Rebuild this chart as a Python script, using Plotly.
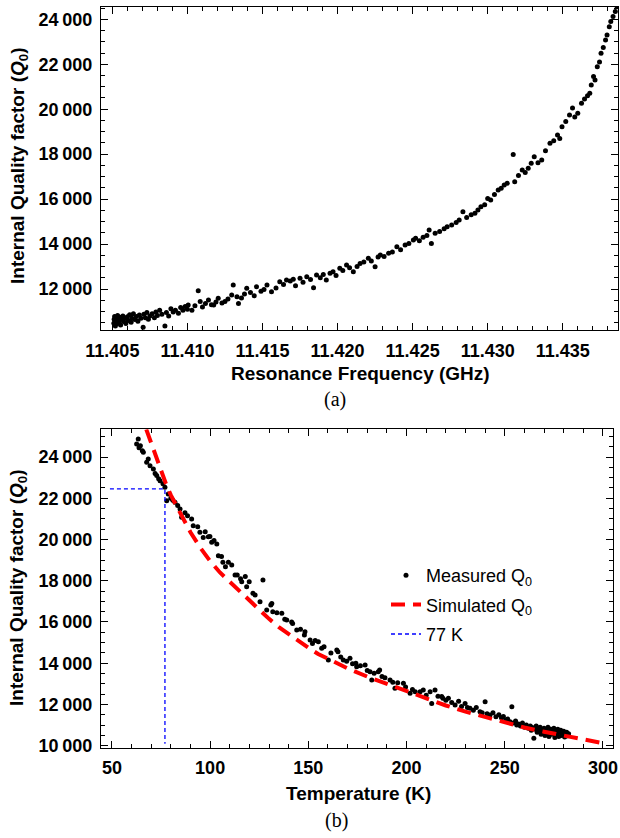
import plotly.graph_objects as go

# (a) Q0 vs resonance frequency
freq_ghz = [
    11.40510, 11.40512, 11.40515, 11.40518, 11.40520, 11.40525, 11.40530, 11.40535, 11.40540, 11.40545,
    11.40550, 11.40555, 11.40560, 11.40570, 11.40575, 11.40580, 11.40590, 11.40600, 11.40605, 11.40615,
    11.40625, 11.40630, 11.40640, 11.40650, 11.40660, 11.40670, 11.40680, 11.40690, 11.40705, 11.40710,
    11.40720, 11.40730, 11.40740, 11.40750, 11.40765, 11.40780, 11.40790, 11.40800, 11.40815, 11.40830,
    11.40850, 11.40860, 11.40875, 11.40890, 11.40905, 11.40920, 11.40940, 11.40955, 11.40970, 11.40985,
    11.41000, 11.41005, 11.41030, 11.41050, 11.41072, 11.41085, 11.41100, 11.41120, 11.41140, 11.41160,
    11.41175, 11.41190, 11.41205, 11.41230, 11.41250, 11.41270, 11.41295, 11.41305, 11.41330, 11.41340,
    11.41360, 11.41380, 11.41395, 11.41420, 11.41445, 11.41460, 11.41490, 11.41510, 11.41530, 11.41560,
    11.41590, 11.41615, 11.41640, 11.41660, 11.41685, 11.41705, 11.41720, 11.41750, 11.41770, 11.41795,
    11.41820, 11.41840, 11.41860, 11.41885, 11.41905, 11.41925, 11.41950, 11.41970, 11.41990, 11.42015,
    11.42035, 11.42060, 11.42080, 11.42105, 11.42130, 11.42150, 11.42175, 11.42205, 11.42225, 11.42250,
    11.42270, 11.42285, 11.42310, 11.42340, 11.42365, 11.42395, 11.42420, 11.42450, 11.42475, 11.42505,
    11.42520, 11.42545, 11.42570, 11.42595, 11.42610, 11.42625, 11.42650, 11.42680, 11.42710, 11.42730,
    11.42760, 11.42790, 11.42810, 11.42835, 11.42860, 11.42890, 11.42915, 11.42935, 11.42955, 11.42980,
    11.43000, 11.43020, 11.43045, 11.43070, 11.43090, 11.43110, 11.43130, 11.43170, 11.43180, 11.43205,
    11.43230, 11.43250, 11.43270, 11.43290, 11.43310, 11.43335, 11.43360, 11.43385, 11.43415, 11.43440,
    11.43465, 11.43480, 11.43495, 11.43520, 11.43545, 11.43565, 11.43580, 11.43600, 11.43625, 11.43645,
    11.43665, 11.43680, 11.43690, 11.43705, 11.43715, 11.43730, 11.43745, 11.43755, 11.43770, 11.43785,
    11.43795, 11.43810, 11.43820, 11.43835, 11.43850, 11.43862,
]
q_vs_freq = [
    10480, 10650, 10780, 10560, 10350, 10700, 10450, 10820, 10600, 10520,
    10740, 10400, 10650, 10800, 10550, 10700, 10460, 10760, 10600, 10850,
    10520, 10700, 10900, 10640, 10780, 10560, 10840, 10700, 10300, 10880,
    10720, 10960, 10650, 10800, 10900, 10720, 10980, 10820, 11060, 10880,
    10350, 10950, 10800, 11120, 10980, 11060, 10920, 11180, 11050, 11220,
    11100, 11290, 11060, 11250, 11920, 11440, 11200, 11350, 11510, 11300,
    11290, 11420, 11590, 11380, 11440, 11560, 11730, 12180, 11660, 11360,
    11600, 11780, 12030, 11850, 11700, 12100, 11900, 11980, 12180, 11880,
    12050, 12320, 12200, 12400, 12360, 12430, 12150, 12480, 12300, 12550,
    12420, 12060, 12620, 12500, 12650, 12400, 12700, 12770, 12600, 12920,
    12820, 13070, 12950, 12770, 13000, 13140, 13200, 13370, 13250, 12990,
    13420, 13510, 13450, 13590, 13650, 13880, 13750, 13960, 14020, 14180,
    14260, 14150, 14300, 14380, 14630, 14030, 14480, 14560, 14680, 14770,
    14850, 14960, 15070, 15440, 15180, 15300, 15370, 15520, 15660, 15750,
    16030, 15960, 16200, 16400, 16480, 16630, 16700, 17990, 16770, 17050,
    17290, 17180, 17370, 17600, 17890, 17620, 17740, 18150, 18480, 18600,
    18850, 18700, 19220, 19450, 19740, 20050, 19650, 19820, 20260, 20450,
    20600, 20710, 21080, 21450, 21300, 21890, 22100, 22490, 22750, 23080,
    23300, 23670, 23900, 24120, 24350, 24560,
]

# (b) Q0 vs temperature
temp_k = [
    62.6, 63.4, 63.8, 64.5, 65.5, 66.0, 67.7, 68.5, 69.4, 71.1,
    72.0, 72.8, 73.8, 74.5, 76.0, 77.0, 77.9, 78.7, 80.0, 81.0,
    82.1, 83.5, 84.7, 85.5, 87.2, 88.5, 90.6, 91.4, 93.7, 94.8,
    96.5, 97.5, 99.1, 99.9, 100.8, 102.0, 103.4, 104.2, 105.8, 106.5,
    107.8, 109.3, 111.0, 112.7, 113.8, 115.5, 116.1, 117.9, 118.6, 119.9,
    121.8, 122.9, 125.4, 126.9, 128.8, 130.9, 131.4, 131.9, 134.0, 136.5,
    138.0, 139.0, 141.5, 142.0, 144.1, 146.0, 148.0, 148.3, 150.9, 152.1,
    153.5, 155.1, 156.8, 158.0, 160.2, 161.5, 164.5, 165.1, 166.5, 167.8,
    169.5, 171.2, 172.5, 174.2, 174.6, 176.5, 178.9, 180.0, 181.4, 182.3,
    183.5, 185.6, 186.3, 187.5, 189.0, 191.6, 193.0, 194.1, 195.5, 198.4,
    199.5, 201.8, 203.0, 204.4, 206.9, 208.5, 210.0, 212.0, 212.8, 214.5,
    216.0, 217.9, 218.5, 220.0, 221.3, 223.0, 224.7, 226.5, 228.0, 229.8,
    231.0, 232.3, 234.0, 235.5, 237.4, 238.5, 240.0, 241.0, 242.5, 244.0,
    245.5, 247.0, 248.3, 249.3, 250.5, 251.5, 252.7, 253.6, 254.5, 255.5,
    256.1, 257.0, 258.0, 259.0, 260.0, 261.0, 262.0, 263.0, 263.5, 264.0,
    264.8, 265.5, 266.0, 266.5, 267.0, 267.5, 268.0, 268.5, 269.0, 269.5,
    270.0, 270.5, 271.0, 271.5, 272.0, 272.5, 273.0, 273.5, 274.0, 274.5,
    275.0, 275.5, 276.0, 276.5, 277.0, 277.5, 278.0, 278.5, 279.0, 279.5,
    280.0, 280.5, 281.0, 281.5, 282.0, 282.5,
]
q_vs_temp = [
    24630, 24870, 24450, 24550, 24300, 24230, 23740, 23900, 23580, 23420,
    23200, 23100, 22950, 22850, 22700, 22530, 21880, 22200, 22000, 21900,
    21800, 21650, 21480, 21080, 21300, 21150, 20990, 20670, 20620, 20350,
    20100, 20380, 20130, 20150, 19860, 19950, 19780, 19210, 19170, 18900,
    18680, 18890, 18760, 18280, 18280, 18100, 17950, 18200, 17710, 17950,
    17390, 17310, 16980, 18030, 16580, 16820, 16900, 16500, 16450, 16420,
    16130, 16100, 16000, 15930, 15610, 15650, 15370, 15530, 15120, 14960,
    15100, 15040, 14720, 14800, 14160, 14500, 14640, 14560, 14300, 14160,
    14100, 14240, 13980, 14000, 13830, 13880, 13910, 13650, 13590, 13190,
    13510, 13590, 13670, 13350, 13300, 13190, 13080, 12780, 13050, 13030,
    12850, 12540, 12720, 12620, 12620, 12700, 12450, 12620, 12050, 12700,
    12400, 12380, 12300, 12200, 12300, 12100, 11970, 12150, 11900, 12050,
    11850, 11810, 11720, 11850, 11650, 11600, 12130, 11550, 11490, 11600,
    11400, 11500, 11350, 11410, 11250, 11300, 11160, 11890, 11100, 11200,
    11000, 11050, 10950, 11100, 10900, 11000, 10850, 10950, 10750, 10880,
    10360, 10800, 10950, 10650, 10850, 10700, 10900, 10550, 10780, 10650,
    10850, 10500, 10750, 10600, 10900, 10450, 10700, 10800, 10550, 10650,
    10850, 10400, 10700, 10580, 10800, 10450, 10650, 10750, 10500, 10600,
    10700, 10420, 10550, 10650, 10480, 10580,
]

# simulated Q0 curve
sim_temp_k = [67.5, 70, 75, 77.5, 80, 85, 90, 95, 100, 105, 110, 115, 120, 125, 130, 135, 140, 145,
              150, 155, 160, 170, 180, 190, 200, 210, 220, 230, 240, 250, 260, 270, 280, 290, 300]
sim_q = [25340, 24650, 23350, 22700, 22150, 21200, 20350, 19600, 18950, 18400, 17950, 17450, 17000,
         16550, 16150, 15750, 15400, 15050, 14750, 14450, 14200, 13750, 13350, 13000, 12600, 12300,
         11950, 11650, 11380, 11130, 10880, 10680, 10480, 10300, 10120]

# 77 K guide lines
guide_t = [49, 77, 77]
guide_q = [22450, 22450, 10100]

freq_ticks = [11.405, 11.410, 11.415, 11.420, 11.425, 11.430, 11.435]
temp_ticks = [50, 100, 150, 200, 250, 300]
q_ticks_a = [12000, 14000, 16000, 18000, 20000, 22000, 24000]
q_ticks_b = [10000, 12000, 14000, 16000, 18000, 20000, 22000, 24000]

W, H = 620, 838
tickfont = dict(family="Liberation Sans", size=18, color="black", weight="bold")
titlefont = dict(family="Liberation Sans", size=19, color="black", weight="bold")


def axis_style(**kw):
    d = dict(showline=True, linecolor="black", linewidth=1, mirror="allticks",
             ticks="inside", ticklen=7, tickwidth=1, tickcolor="black", automargin=False,
             showgrid=False, zeroline=False, tickfont=tickfont, ticklabelstandoff=4)
    d.update(kw)
    return d


fig = go.Figure()

fig.add_trace(go.Scatter(x=freq_ghz, y=q_vs_freq, mode="markers",
                         marker=dict(color="black", size=5), showlegend=False,
                         xaxis="x", yaxis="y"))

fig.add_trace(go.Scatter(x=temp_k, y=q_vs_temp, mode="markers",
                         marker=dict(color="black", size=5), name="Measured Q<sub>0</sub>",
                         legendgroup="a", xaxis="x2", yaxis="y2"))
fig.add_trace(go.Scatter(x=sim_temp_k, y=sim_q, mode="lines",
                         line=dict(color="red", width=4, dash="14px,8px"),
                         name="Simulated Q<sub>0</sub>", legendgroup="b",
                         xaxis="x2", yaxis="y2"))
fig.add_trace(go.Scatter(x=guide_t, y=guide_q, mode="lines",
                         line=dict(color="blue", width=1.3, dash="4px,3px"),
                         name="77 K", legendgroup="c", xaxis="x2", yaxis="y2"))

fig.update_layout(
    width=W, height=H,
    margin=dict(l=0, r=0, t=0, b=0),
    paper_bgcolor="white", plot_bgcolor="white",
    xaxis=axis_style(domain=[100.8 / W, 618 / W], range=[11.40423, 11.43868], anchor="y",
                     tickmode="array", tickvals=freq_ticks,
                     ticktext=["%.3f" % v for v in freq_ticks],
                     minor=dict(ticks="inside", ticklen=4, dtick=0.001, tick0=11.405,
                                tickcolor="black", showgrid=False)),
    yaxis=axis_style(domain=[1 - 330 / H, 1 - 6.7 / H], range=[10176, 24561], anchor="x",
                     tickmode="array", tickvals=q_ticks_a,
                     ticktext=["%d\u2009%03d" % (v // 1000, v % 1000) for v in q_ticks_a],
                     minor=dict(ticks="inside", ticklen=4, dtick=500, tick0=0,
                                tickcolor="black", showgrid=False)),
    xaxis2=axis_style(domain=[100.8 / W, 613 / W], range=[44.35, 305.1], anchor="y2",
                      tickmode="array", tickvals=temp_ticks,
                      ticktext=[str(v) for v in temp_ticks],
                      minor=dict(ticks="inside", ticklen=4, dtick=10, tick0=0,
                                 tickcolor="black", showgrid=False)),
    yaxis2=axis_style(domain=[1 - 747.7 / H, 1 - 429.3 / H], range=[9903, 25343], anchor="x2",
                      tickmode="array", tickvals=q_ticks_b,
                      ticktext=["%d\u2009%03d" % (v // 1000, v % 1000) for v in q_ticks_b],
                      minor=dict(ticks="inside", ticklen=4, dtick=500, tick0=0,
                                 tickcolor="black", showgrid=False)),
    legend=dict(x=386 / W, y=1 - 557 / H, xanchor="left", yanchor="top",
                bgcolor="rgba(0,0,0,0)", tracegroupgap=3,
                font=dict(family="Liberation Sans", size=18, color="black")),
)

ytitle = "Internal Quality factor (<i>Q</i><sub>0</sub>)"
notes = [
    (19, 166, ytitle, titlefont, -90),
    (18, 588, ytitle, titlefont, -90),
    (360, 373, "Resonance Frequency (GHz)", titlefont, 0),
    (358, 793, "Temperature (K)", titlefont, 0),
    (335, 400, "(a)", dict(family="Liberation Serif", size=20, color="black"), 0),
    (336, 820, "(b)", dict(family="Liberation Serif", size=20, color="black"), 0),
]
for px, py, txt, fnt, ang in notes:
    fig.add_annotation(x=px / W, y=1 - py / H, xref="paper", yref="paper", text=txt,
                       showarrow=False, font=fnt, textangle=ang,
                       xanchor="center", yanchor="middle")

# the page body has a default margin; drop it so the figure sits at 0,0
fig.write_html("out.html", config={"displayModeBar": False},
               post_script="document.body.style.margin='0';")
